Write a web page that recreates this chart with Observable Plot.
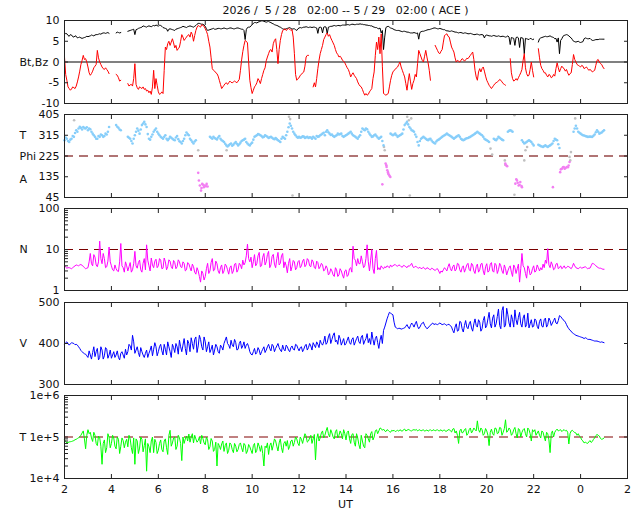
<!DOCTYPE html>
<html><head><meta charset="utf-8">
<script src="https://cdn.jsdelivr.net/npm/d3@7"></script>
<script src="https://cdn.jsdelivr.net/npm/@observablehq/plot@0.6"></script>
<style>
body{margin:0;background:#fff;}
#wrap{position:relative;width:640px;height:512px;font-family:"DejaVu Sans",sans-serif;color:#111;}
#wrap svg{position:absolute;left:0;}
#title{position:absolute;top:4px;left:64px;width:563px;text-align:center;font-size:11px;white-space:pre;}
#ut{position:absolute;top:498px;left:64px;width:563px;text-align:center;font-size:11px;}
</style></head><body>
<div id="wrap"><div id="title">2026 /  5 / 28   02:00 -- 5 / 29   02:00 ( ACE )</div><div id="ut">UT</div></div>
<script>
// ---- data sampled every 0.1 h from 02:00 UT; "...Mid" arrays are the samples half-way between ----
const bt = [6.6,6.8,6.2,6.5,6.0,6.2,5.9,5.8,5.8,6.0,
6.1,6.3,6.4,6.5,6.6,6.8,6.9,7.0,7.0,6.9,
null,null,7.0,7.1,7.1,null,null,7.4,7.6,7.8,
6.6,7.9,8.2,8.4,8.6,8.4,8.7,8.5,8.8,8.9,
8.6,8.8,8.3,8.1,7.4,8.0,7.8,7.6,8.0,8.2,
8.4,8.5,8.3,8.6,8.6,8.4,8.8,9.3,9.2,9.1,
8.6,7.6,7.8,8.0,7.9,8.0,8.1,8.0,8.2,8.0,
8.1,8.2,8.0,8.1,8.2,8.0,7.9,5.4,8.3,8.4,
9.0,9.5,9.4,9.7,9.9,9.8,9.6,9.8,9.5,9.2,
8.9,8.7,8.4,8.0,7.9,8.1,8.3,7.9,8.0,7.6,
8.2,8.2,8.4,8.5,8.3,8.4,8.4,8.3,6.9,8.4,
7.0,8.5,6.8,8.5,8.6,8.8,8.7,8.8,
8.8,8.9,8.9,9.0,9.0,9.1,9.0,9.1,9.2,9.1,9.0,8.9,
8.8,8.7,8.4,8.3,8.0,7.0,3.0,8.3,8.6,8.2,
8.0,7.7,7.6,7.5,7.3,7.4,7.2,7.1,7.0,7.1,
6.9,5.5,7.3,7.4,7.6,7.8,7.9,8.1,8.2,8.0,
8.1,7.9,7.8,7.5,7.4,7.5,7.3,7.2,7.0,7.1,
6.9,7.0,6.8,6.9,6.7,6.6,6.7,6.5,6.6,5.8,
6.5,6.3,6.2,6.4,6.2,6.3,6.1,6.2,6.0,6.3,
4.2,5.8,4.0,6.0,3.5,5.8,2.0,5.6,5.4,5.6,
5.5,null,4.8,5.8,6.0,6.2,6.1,6.3,6.0,5.6,
4.8,2.0,5.6,6.4,6.6,6.3,5.8,5.0,4.8,5.0,
4.7,4.9,5.8,5.6,5.7,5.2,5.3,5.4,5.5,5.5,5.5];

const btMid = [6.9,6.4,6.6,6.1,6.3,5.8,6.0,5.7,5.9,6.2,
6.2,6.5,6.3,6.6,6.7,6.7,7.0,6.9,7.1,null,
null,null,7.2,7.0,null,null,null,7.5,7.7,7.9,
7.8,8.1,8.3,8.7,8.5,8.6,8.6,8.7,8.7,8.8,
8.9,8.6,8.2,8.0,7.9,7.9,7.7,7.9,8.1,8.3,
8.6,8.4,8.5,8.7,8.5,8.6,9.1,9.3,9.1,8.9,
8.0,7.7,7.9,8.1,7.9,8.1,8.0,8.1,8.1,8.0,
8.2,8.1,8.0,8.2,8.1,7.9,7.6,7.8,8.4,8.7,
9.3,9.5,9.6,9.8,9.9,9.7,9.7,9.6,9.3,9.0,
8.8,8.5,8.2,7.9,8.0,8.2,8.1,8.0,7.8,8.0,
8.3,8.3,8.4,8.4,8.4,8.3,8.4,8.2,8.3,8.3,
8.4,8.4,8.4,8.6,8.7,8.7,8.8,8.7,8.9,8.9,
9.0,8.9,9.1,9.0,9.1,9.1,9.1,9.0,8.9,8.8,
8.7,8.5,8.3,8.1,8.2,7.6,6.0,8.5,8.4,8.1,
7.8,7.6,7.6,7.4,7.4,7.3,7.2,7.0,7.0,7.0,
7.0,7.1,7.4,7.5,7.7,7.8,8.0,8.2,8.1,8.0,
8.0,7.8,7.6,7.5,7.4,7.4,7.2,7.1,7.1,7.0,
7.0,6.9,6.8,6.8,6.6,6.7,6.6,6.6,6.5,6.4,
6.4,6.3,6.3,6.3,6.2,6.2,6.2,6.1,6.1,6.0,
5.9,5.7,5.9,5.8,5.9,5.7,5.7,5.5,5.7,5.4,
null,null,5.6,5.9,6.1,6.1,6.2,6.1,5.9,5.7,
5.8,5.2,6.2,6.5,6.5,6.0,5.4,4.9,4.9,4.8,
4.8,5.6,5.7,5.6,5.4,5.2,5.4,5.4,5.5,5.5];

const bz = [1.2,-4.4,-6.4,-6.5,-6.2,-5.8,-3.6,-0.6,1.6,0.8,
-1.2,-3.2,-2.2,-1.0,2.8,0.0,-1.2,-1.8,-1.8,-2.8,
null,null,-3.0,-3.8,-4.4,null,null,-5.2,-5.5,-5.8,
-0.4,-6.2,-6.0,-6.4,-6.6,-7.0,-7.4,-7.8,-2.0,-4.0,
-7.2,-7.6,-7.6,3.6,4.4,4.0,5.6,3.4,2.8,3.6,
6.6,5.2,6.0,6.6,7.2,5.0,7.6,8.8,8.4,8.8,
8.0,6.6,3.6,-1.6,-2.2,-2.8,-4.4,-6.4,-5.6,-5.0,
-5.0,-4.9,-4.8,-4.8,-4.6,-2.0,2.5,5.2,4.6,-4.4,
-7.6,-6.0,-5.0,-4.5,-4.0,-2.0,0.3,2.0,3.0,4.4,
5.6,-0.4,5.2,7.6,8.0,7.8,7.9,7.8,2.0,-4.4,
-3.8,-3.0,-2.4,1.2,1.6,null,-6.0,-6.0,-1.6,2.0,
4.0,6.0,7.0,6.6,5.2,4.0,2.2,1.2,
1.0,0.2,-0.8,-1.8,-3.6,-2.6,-3.6,-4.8,-5.8,-6.6,-8.0,-8.0,
-7.2,-6.4,-2.4,4.8,6.0,6.8,-7.6,-8.0,-7.6,-4.4,
-2.4,-1.8,-1.2,0.0,-2.0,-3.6,-6.8,-2.8,-6.6,-4.4,
-3.6,2.8,1.2,0.0,2.8,-0.2,-4.4,null,4.0,2.8,
2.0,3.0,6.4,6.8,6.0,3.6,2.4,0.0,0.2,0.4,
0.6,0.5,0.8,1.6,2.4,-2.0,-4.4,-1.6,-1.6,-2.2,
-4.4,-5.6,-6.4,-5.6,-5.0,-4.6,-4.4,-5.2,-5.6,null,
0.8,-4.0,-4.4,-4.4,-3.2,-1.8,2.0,-2.8,-3.2,0.0,
-3.6,null,3.2,-0.8,-2.0,-2.6,-3.6,-3.2,-3.6,-3.4,
-0.2,-2.4,-1.0,-1.6,-1.8,-3.2,-2.6,1.8,0.0,-0.8,
-1.2,-1.0,-1.4,-1.6,-1.8,-2.4,-2.0,0.4,0.0,-0.6,-1.6];

const bzMid = [-3.0,-6.0,-6.8,-6.0,-6.4,-4.8,-2.2,0.4,0.6,0.0,
-2.6,-2.8,-1.4,-0.6,1.0,-0.6,-1.6,-1.4,-2.2,null,
null,null,-3.2,-4.6,null,null,null,-5.8,-5.4,-4.0,
-5.4,-6.6,-6.2,-6.0,-6.4,-6.8,-7.0,-6.0,-6.4,-5.6,
-7.8,-7.2,-2.0,3.0,5.0,4.8,4.6,4.0,3.2,5.0,
6.0,5.6,6.4,6.0,6.6,6.4,8.4,8.6,9.0,8.6,
7.4,5.0,1.0,-2.0,-2.6,-3.4,-5.4,-6.0,-5.2,-5.4,
-4.6,-5.0,-4.6,-5.0,-4.2,0.5,4.0,5.0,0.0,-6.2,
-6.8,-5.6,-4.0,-5.2,-3.0,-1.4,1.2,2.8,2.4,5.2,
3.0,3.0,6.6,7.8,7.6,8.1,7.6,6.0,-3.0,-4.0,
-3.2,-2.6,-1.0,1.6,null,null,-5.0,-4.0,0.4,3.0,
5.4,6.6,6.2,5.8,4.6,3.0,1.8,1.4,0.4,-0.2,
-1.4,-2.6,-3.0,-3.2,-4.0,-5.4,-6.0,-7.4,-7.6,-7.8,
-6.8,-4.0,1.6,3.0,2.0,-1.0,-7.8,-7.8,-6.0,-3.2,
-2.0,-1.4,-0.6,-1.2,-2.8,-5.2,-4.6,-4.8,-5.2,-3.0,
-0.4,2.0,0.4,1.4,1.2,-2.0,null,null,3.4,2.2,
2.6,4.8,6.6,6.2,4.8,3.0,1.0,0.4,0.0,0.8,
0.2,0.9,1.2,2.0,0.6,-3.6,-2.4,-2.4,-1.2,-3.4,
-5.0,-6.0,-6.0,-5.2,-4.8,-4.2,-4.8,-5.4,null,null,
-2.6,-4.6,-4.0,-3.8,-2.6,0.4,-1.4,-3.4,-1.8,-2.0,
null,null,1.0,-1.6,-2.6,-3.2,-3.0,-3.8,-3.0,-1.6,
-1.4,-1.6,-1.4,-2.2,-2.6,-2.8,-0.6,0.6,-0.6,-1.0,
-0.8,-1.6,-1.2,-2.0,-2.0,-2.2,-0.8,0.6,-0.4,-1.2];

const phiToward = [293,300,286,300,308,337,344,347,351,344,
337,341,322,308,300,308,315,312,318,351,
null,null,359,347,337,null,null,308,300,279,
315,344,322,359,373,351,300,308,330,344,
322,308,300,315,293,308,300,293,312,289,
279,300,327,315,293,279,293,null,null,null,
null,null,308,300,303,297,312,293,286,271,
271,279,274,286,271,283,293,300,279,271,
283,308,315,318,312,308,312,303,308,300,
303,293,286,308,300,330,366,344,322,308,
308,306,309,306,303,305,308,300,308,315,
322,315,337,322,318,308,315,318,
322,308,315,322,330,315,308,300,315,344,337,341,
322,308,315,312,300,308,271,null,null,322,
315,322,308,315,322,359,373,351,337,330,
308,271,300,308,300,293,300,286,279,293,
300,308,315,322,315,308,300,308,315,300,
293,300,303,308,315,322,330,322,315,300,
293,286,null,300,293,308,300,293,null,330,
337,330,null,null,null,293,279,286,293,286,
271,null,274,268,264,271,264,271,279,300,
293,260,null,null,null,null,null,330,356,330,
322,315,312,308,309,308,318,337,322,327,337];

const phiTowardMid = [305,290,296,312,325,330,352,340,346,350,
344,330,315,300,312,318,308,322,330,null,
null,null,352,340,null,null,null,304,290,300,
330,335,340,366,362,320,296,318,338,330,
315,304,308,300,300,304,296,305,298,286,
290,315,320,300,286,288,null,null,null,null,
null,null,304,308,300,305,300,290,278,266,
276,270,280,278,276,290,296,286,274,278,
296,312,320,315,306,315,308,306,304,298,
298,290,300,304,315,350,356,330,315,304,
304,310,303,308,306,300,304,312,310,318,
326,330,328,316,312,312,322,320,312,312,
318,326,322,312,304,308,330,340,344,330,
315,310,318,305,304,290,null,null,null,318,
318,315,312,318,340,366,362,344,334,318,
286,290,304,304,296,298,292,282,288,296,
304,312,318,318,312,304,304,312,308,296,
296,302,306,312,318,326,326,318,308,296,
290,null,null,296,300,304,296,null,null,334,
334,null,null,null,null,286,282,290,290,278,
null,null,271,266,268,267,268,275,290,296,
276,null,null,null,null,null,null,344,344,326,
318,314,310,308,308,313,328,330,325,332];

const phiAwayH = [7.70,7.73,7.77,7.82,7.84,7.87,7.91,7.94,7.99,8.03,8.06,8.10,
15.55,15.69,15.72,15.73,15.76,15.79,15.80,15.83,15.86,15.89,
20.79,20.82,20.87,
21.22,21.26,21.29,21.32,21.36,21.40,21.43,21.48,21.50,
22.82,23.13,23.16,23.20,23.25,23.28,23.32,23.36,23.41,23.46,23.49,23.53];
const phiAwayV = [152,119,97,75,86,104,100,90,97,94,104,93,
102,192,185,177,163,155,148,144,138,134,
192,185,181,
105,124,119,109,97,100,112,95,90,
90,155,167,170,176,177,170,173,177,176,184,199];

const phiOtherH = [2.41,7.70,8.91,11.57,11.62,11.72,15.62,15.65,16.61,16.68,16.78,16.72,
20.16,20.23,20.77,20.79,21.18,21.18,21.60,21.65,21.72,23.53,23.56,23.59,23.77];
const phiOtherV = [380,250,250,395,385,54,264,250,395,380,388,54,
257,231,206,187,402,57,206,250,264,221,206,242,388];

const density = [4.1,3.5,3.6,3.4,3.8,4.2,4.0,4.3,3.9,3.4,
3.6,8.0,4.0,6.5,3.8,16,4.5,6.0,3.8,11.5,
4.0,3.0,3.4,2.9,14,3.6,5.0,3.0,4.8,3.2,
9.0,3.5,5.5,2.8,6.0,13,4.0,6.2,3.6,5.8,
4.0,5.5,3.5,5.0,3.8,5.2,3.4,4.8,3.8,5.0,
3.6,4.6,3.2,4.5,3.0,3.8,2.5,3.0,1.6,2.6,
2.2,4.6,3.0,6.0,3.2,4.5,2.6,4.2,3.0,4.0,
2.5,4.0,3.0,4.6,3.2,4.2,5.5,4.8,13.5,5.0,
3.6,7.5,4.5,8.5,4.0,8.0,5.0,9.0,4.2,7.6,
3.6,8.5,4.6,8.0,5.0,2.7,6.0,3.8,5.0,3.6,
5.4,4.0,5.8,4.2,5.5,3.8,5.0,3.4,4.8,3.8,
4.2,3.2,3.5,2.6,3.0,2.2,3.2,2.4,
3.0,2.0,3.2,2.4,3.6,12,5.5,6.0,4.5,5.0,4.0,13,
3.0,10,2.6,9.5,3.6,4.0,3.4,3.6,3.8,4.2,
4.0,4.3,3.9,4.1,3.7,4.0,3.6,3.9,4.6,3.6,
3.8,3.5,3.4,3.7,3.3,3.5,3.2,3.4,3.1,3.4,
2.6,2.8,3.6,3.0,4.5,3.0,4.2,3.3,4.4,2.8,
4.0,3.4,4.6,3.0,4.2,2.6,4.4,3.2,4.6,2.4,
4.5,3.0,4.8,2.8,4.2,3.2,4.0,2.6,3.4,3.0,
4.0,2.2,3.6,3.4,1.6,8.0,3.6,2.0,3.4,2.6,
4.0,3.0,3.6,3.6,4.4,5.5,10.5,3.6,4.2,3.4,
4.6,3.6,3.4,4.0,3.6,3.8,3.4,4.6,3.6,3.4,
3.7,3.6,3.8,3.4,3.5,4.6,4.3,3.8,3.5,3.4,3.3];

const densityMid = [3.7,3.6,3.5,3.6,4.0,4.1,4.2,4.1,3.6,3.5,
5.0,4.5,7.5,4.2,5.0,6.0,8.0,3.6,5.2,5.0,
3.2,4.2,3.0,5.0,4.0,2.8,4.0,3.8,2.8,4.5,
4.0,4.8,3.2,4.6,3.2,5.5,3.0,4.2,5.2,3.6,
6.0,3.4,6.2,3.2,5.6,3.8,5.4,3.4,5.6,3.8,
5.0,3.0,4.8,3.6,4.4,2.8,3.6,2.2,3.0,1.8,
3.4,2.6,4.8,3.0,5.2,3.0,3.6,2.6,4.4,3.2,
3.6,2.6,4.4,2.8,4.6,3.4,4.2,7.0,6.0,6.5,
5.0,4.0,7.0,3.8,6.5,4.2,7.5,3.6,6.8,4.4,
6.0,4.2,7.0,3.6,4.0,4.6,3.0,5.4,3.2,5.0,
3.6,5.2,3.8,6.0,4.0,5.6,3.6,5.2,3.4,4.6,
3.0,4.0,2.4,3.4,2.4,3.6,2.2,3.4,2.4,3.0,
2.2,3.4,2.8,6.0,4.0,4.5,7.0,3.6,6.0,5.0,
5.5,3.4,6.0,3.2,3.2,3.6,3.8,4.0,3.6,3.8,
4.2,4.0,4.2,3.8,4.1,3.8,4.0,4.2,3.8,3.9,
3.6,3.7,3.5,3.4,3.6,3.3,3.5,3.2,3.3,3.0,
3.0,3.2,3.3,3.8,3.4,3.8,3.0,4.6,3.2,3.6,
2.8,4.2,3.2,4.6,3.0,3.8,2.8,4.4,3.0,3.8,
2.8,4.4,3.0,4.6,2.6,4.6,3.0,4.2,2.4,3.6,
2.8,4.2,2.6,4.4,3.4,4.0,2.6,4.0,2.4,3.4,
2.8,4.2,3.0,3.2,3.6,4.6,4.2,5.0,3.2,4.4,
3.4,4.0,3.6,3.5,3.9,3.6,3.8,4.0,3.5,3.6,
3.5,3.7,3.6,3.5,4.0,4.5,4.0,3.6,3.5,3.3];

const speed = [398,404,396,402,400,398,392,383,377,374,
366,372,378,368,388,366,384,370,386,372,
364,380,372,366,376,372,386,380,394,420,
376,392,368,380,366,384,376,394,386,392,
380,398,372,386,404,380,398,378,392,408,
380,412,372,400,414,386,416,394,410,384,
404,392,378,396,384,392,376,392,400,416,
396,408,392,402,386,406,394,388,400,380,
372,388,378,384,380,392,384,398,382,394,
388,400,384,396,382,392,380,394,384,396,
382,392,386,398,390,394,402,390,398,408,
396,418,402,424,410,426,408,420,
396,412,400,416,398,414,404,418,400,420,406,424,
412,428,396,418,388,420,432,450,468,474,
470,440,436,437,436,438,446,436,450,440,
454,436,446,452,440,438,444,450,448,446,
450,446,448,444,446,440,426,448,432,452,
428,456,436,454,430,460,440,452,436,466,
444,476,438,470,448,484,436,490,444,470,
440,458,482,446,476,440,470,446,438,458,
442,456,436,460,440,462,446,456,450,462,
448,468,462,456,446,436,430,424,420,418,
416,414,414,410,410,408,406,406,404,404,402];

const speedMid = [402,400,399,401,397,396,388,380,375,370,
382,362,392,380,360,392,362,390,364,384,
372,366,382,360,380,364,372,398,384,404,
384,378,390,372,376,366,384,370,402,370,
392,382,398,372,392,366,390,400,374,392,
396,388,408,380,400,410,378,420,392,416,
380,404,386,372,398,380,396,384,408,400,
388,396,410,384,400,388,404,396,392,374,
380,374,390,372,386,378,392,388,398,380,
394,390,380,386,396,384,390,386,398,388,
390,380,394,384,400,384,396,404,390,400,
404,398,416,400,420,404,398,412,404,396,
408,402,410,396,412,404,416,398,412,402,
398,410,412,402,408,400,440,460,476,472,
452,438,437,435,437,442,440,444,446,448,
442,440,450,444,436,442,448,446,447,448,
448,447,446,447,444,432,440,430,454,436,
444,440,448,438,448,444,458,430,456,438,
460,448,462,440,466,444,480,440,486,450,
470,440,458,464,448,462,440,474,448,440,
460,442,454,442,458,440,462,444,456,450,
456,466,458,452,440,432,426,422,419,417,
415,412,413,410,409,407,406,405,403,403];

// temperature in thousands of K
const tempK = [85,72,76,78,82,88,95,110,140,52,
150,130,78,110,62,96,22,85,55,98,
70,95,52,88,60,82,75,58,90,40,
22,80,54,88,62,15,58,80,42,74,
48,85,44,90,38,145,72,100,60,95,
27,70,105,118,100,72,90,82,68,92,
65,85,58,80,50,20,62,68,45,72,
48,66,42,60,50,72,44,64,46,58,
40,70,48,60,62,20,55,38,72,64,
80,46,90,42,78,82,60,85,74,90,
62,88,95,105,80,110,90,28,120,95,
140,110,170,100,125,90,150,110,
120,150,85,140,70,120,60,95,52,80,55,110,
75,135,100,150,140,160,155,135,145,130,
140,135,145,150,138,155,145,148,140,150,
152,146,140,150,143,138,150,145,140,150,
142,138,148,140,152,132,160,140,70,155,
130,160,120,165,140,150,245,130,150,120,
140,62,155,110,160,125,165,130,260,140,
150,120,170,95,150,130,160,100,150,80,
135,110,140,95,130,80,120,42,140,130,
155,145,135,150,145,68,140,135,125,120,
98,80,75,70,82,78,95,115,105,88,95];

const tempKMid = [78,74,77,80,86,92,102,125,90,110,
120,95,130,70,105,60,70,42,120,55,
110,60,100,40,95,55,88,110,55,95,
90,40,100,44,90,70,42,100,88,40,
70,50,80,55,110,60,95,50,110,70,
100,90,80,75,120,110,75,100,110,72,
100,50,92,45,75,70,50,80,62,40,
72,50,70,44,66,55,70,40,66,48,
62,42,72,45,40,60,72,62,48,90,
60,72,55,70,60,50,80,60,100,70,
100,70,120,75,95,70,115,90,80,125,
95,140,120,150,100,135,95,140,90,120,
130,90,115,75,120,65,110,60,120,90,
120,85,140,120,165,145,140,150,135,145,
145,140,138,142,150,140,152,142,148,146,
140,150,145,138,148,145,140,150,146,140,
150,144,136,148,140,155,125,110,140,125,
150,110,150,125,165,140,150,165,110,160,
110,130,120,165,120,170,110,160,130,165,
110,150,120,160,100,150,120,165,120,150,
150,125,110,140,100,130,85,120,100,145,
140,150,145,140,130,120,145,128,110,105,
85,72,72,76,74,88,108,110,92,90];

const hourTicks = [2,4,6,8,10,12,14,16,18,20,22,24,26];
const bTicks = [-10,-5,0,5,10];
const phiTicks = [45,135,225,315,405];
const nTicks = [1,10,100];
const nMinor = [1,2,3,4,5,6,7,8,9,10,20,30,40,50,60,70,80,90,100];
const vTicks = [300,400,500];
const tTicks = [1e4,1e5,1e6];
const tMinor = [1e4,2e4,3e4,4e4,5e4,6e4,7e4,8e4,9e4,1e5,2e5,3e5,4e5,5e5,6e5,7e5,8e5,9e5,1e6];

// ---- tables ----
const hours = d3.range(bt.length).map(i => +(2 + i * 0.1).toFixed(2));
const hoursMid = hours.slice(0, -1).map(h => +(h + 0.05).toFixed(2));
const byTime = (a, b) => a.h - b.h;
const mag = hours.map((h, i) => ({h, bt: bt[i], bz: bz[i]}))
  .concat(hoursMid.map((h, i) => ({h, bt: btMid[i], bz: bzMid[i]})))
  .sort(byTime);
const phiBlue = hours.map((h, i) => ({h, phi: phiToward[i]}))
  .concat(hoursMid.map((h, i) => ({h, phi: phiTowardMid[i]})));
const plasma = hours.map((h, i) => ({h, n: density[i], v: speed[i], t: tempK[i] * 1000}))
  .concat(hoursMid.map((h, i) => ({h, n: densityMid[i], v: speedMid[i], t: tempKMid[i] * 1000})))
  .sort(byTime);
const away = phiAwayH.map((h, i) => ({h, phi: phiAwayV[i]}));
const other = phiOtherH.map((h, i) => ({h, phi: phiOtherV[i]}));

const wrap = document.getElementById("wrap");
const FONT = "'DejaVu Sans', sans-serif";

function panel({top, frameH, y, marks, tickMarks, labelTicks, tickFormat, rightTicks, sideLabels, bottom}) {
  const mt = 6, mb = bottom ? 24 : 6;
  const svg = Plot.plot({
    width: 640, height: frameH + mt + mb,
    marginLeft: 64, marginRight: 13, marginTop: mt, marginBottom: mb,
    style: {fontFamily: FONT, fontSize: "11px", background: "transparent", overflow: "visible", color: "#111"},
    x: {domain: [2, 26]},
    y,
    marks: [
      ...marks,
      Plot.text(sideLabels, {y: "y", text: "label", frameAnchor: "left", textAnchor: "start", dx: -45, fontSize: 11, fill: "#111"}),
      Plot.frame({stroke: "#222", strokeWidth: 1}),
      Plot.axisX({anchor: "bottom", ticks: hourTicks, tickSize: -4, fill: "none", label: null, stroke: "#222"}),
      Plot.axisX({anchor: "top", ticks: hourTicks, tickSize: -4, fill: "none", label: null, stroke: "#222"}),
      Plot.axisY({anchor: "left", ticks: tickMarks, tickSize: -4, fill: "none", label: null, stroke: "#222"}),
      Plot.axisY({anchor: "right", ticks: rightTicks, tickSize: -4, fill: "none", label: null, stroke: "#222"}),
      Plot.axisY({anchor: "left", ticks: labelTicks, tickSize: 0, tickPadding: 5, tickFormat, label: null, fill: "#111"}),
      bottom ? Plot.axisX({anchor: "bottom", ticks: hourTicks, tickSize: 0, tickPadding: 7, tickFormat: d => String(d % 24), label: null, fill: "#111"}) : null
    ]
  });
  svg.style.top = (top - mt) + "px";
  wrap.appendChild(svg);
}

// Panel 1: Bt, Bz
panel({
  top: 20, frameH: 83,
  y: {domain: [-10, 10]},
  tickMarks: bTicks, labelTicks: bTicks, rightTicks: bTicks, tickFormat: d => String(d),
  sideLabels: [{y: 0, label: "Bt,Bz"}],
  marks: [
    Plot.ruleY([0], {stroke: "#808080", strokeWidth: 2}),
    Plot.line(mag, {x: "h", y: "bt", stroke: "#000", strokeWidth: 1}),
    Plot.line(mag, {x: "h", y: "bz", stroke: "#ff0000", strokeWidth: 1})
  ]
});

// Panel 2: Phi
panel({
  top: 114, frameH: 83,
  y: {domain: [45, 405]},
  tickMarks: phiTicks, labelTicks: phiTicks, rightTicks: phiTicks, tickFormat: d => String(d),
  sideLabels: [{y: 315, label: "T"}, {y: 225, label: "Phi"}, {y: 122, label: "A"}],
  marks: [
    Plot.ruleY([225], {stroke: "#b07474", strokeWidth: 2, strokeDasharray: "9,6"}),
    Plot.dot(other, {x: "h", y: "phi", r: 1.3, fill: "#c0c0c0", stroke: null}),
    Plot.dot(phiBlue, {x: "h", y: "phi", r: 1.3, fill: "#87cefa", stroke: null}),
    Plot.dot(away, {x: "h", y: "phi", r: 1.3, fill: "#f27ff2", stroke: null})
  ]
});

// Panel 3: N
panel({
  top: 208, frameH: 82,
  y: {type: "log", domain: [1, 100]},
  tickMarks: nMinor, labelTicks: nTicks, rightTicks: nTicks, tickFormat: d => String(d),
  sideLabels: [{y: 10, label: "N"}],
  marks: [
    Plot.ruleY([10], {stroke: "#7a0000", strokeWidth: 1, strokeDasharray: "9,6"}),
    Plot.line(plasma, {x: "h", y: "n", stroke: "#ff00ff", strokeWidth: 1})
  ]
});

// Panel 4: V
panel({
  top: 302, frameH: 82,
  y: {domain: [300, 500]},
  tickMarks: vTicks, labelTicks: vTicks, rightTicks: vTicks, tickFormat: d => String(d),
  sideLabels: [{y: 400, label: "V"}],
  marks: [
    Plot.line(plasma, {x: "h", y: "v", stroke: "#0000ff", strokeWidth: 1})
  ]
});

// Panel 5: T
panel({
  top: 395, frameH: 83, bottom: true,
  y: {type: "log", domain: [1e4, 1e6]},
  tickMarks: tMinor, labelTicks: tTicks, rightTicks: tTicks,
  tickFormat: d => "1e+" + Math.round(Math.log10(d)),
  sideLabels: [{y: 1e5, label: "T"}],
  marks: [
    Plot.ruleY([1e5], {stroke: "#c08080", strokeWidth: 2, strokeDasharray: "9,6"}),
    Plot.line(plasma, {x: "h", y: "t", stroke: "#00ff00", strokeWidth: 1})
  ]
});
</script>
</body></html>
